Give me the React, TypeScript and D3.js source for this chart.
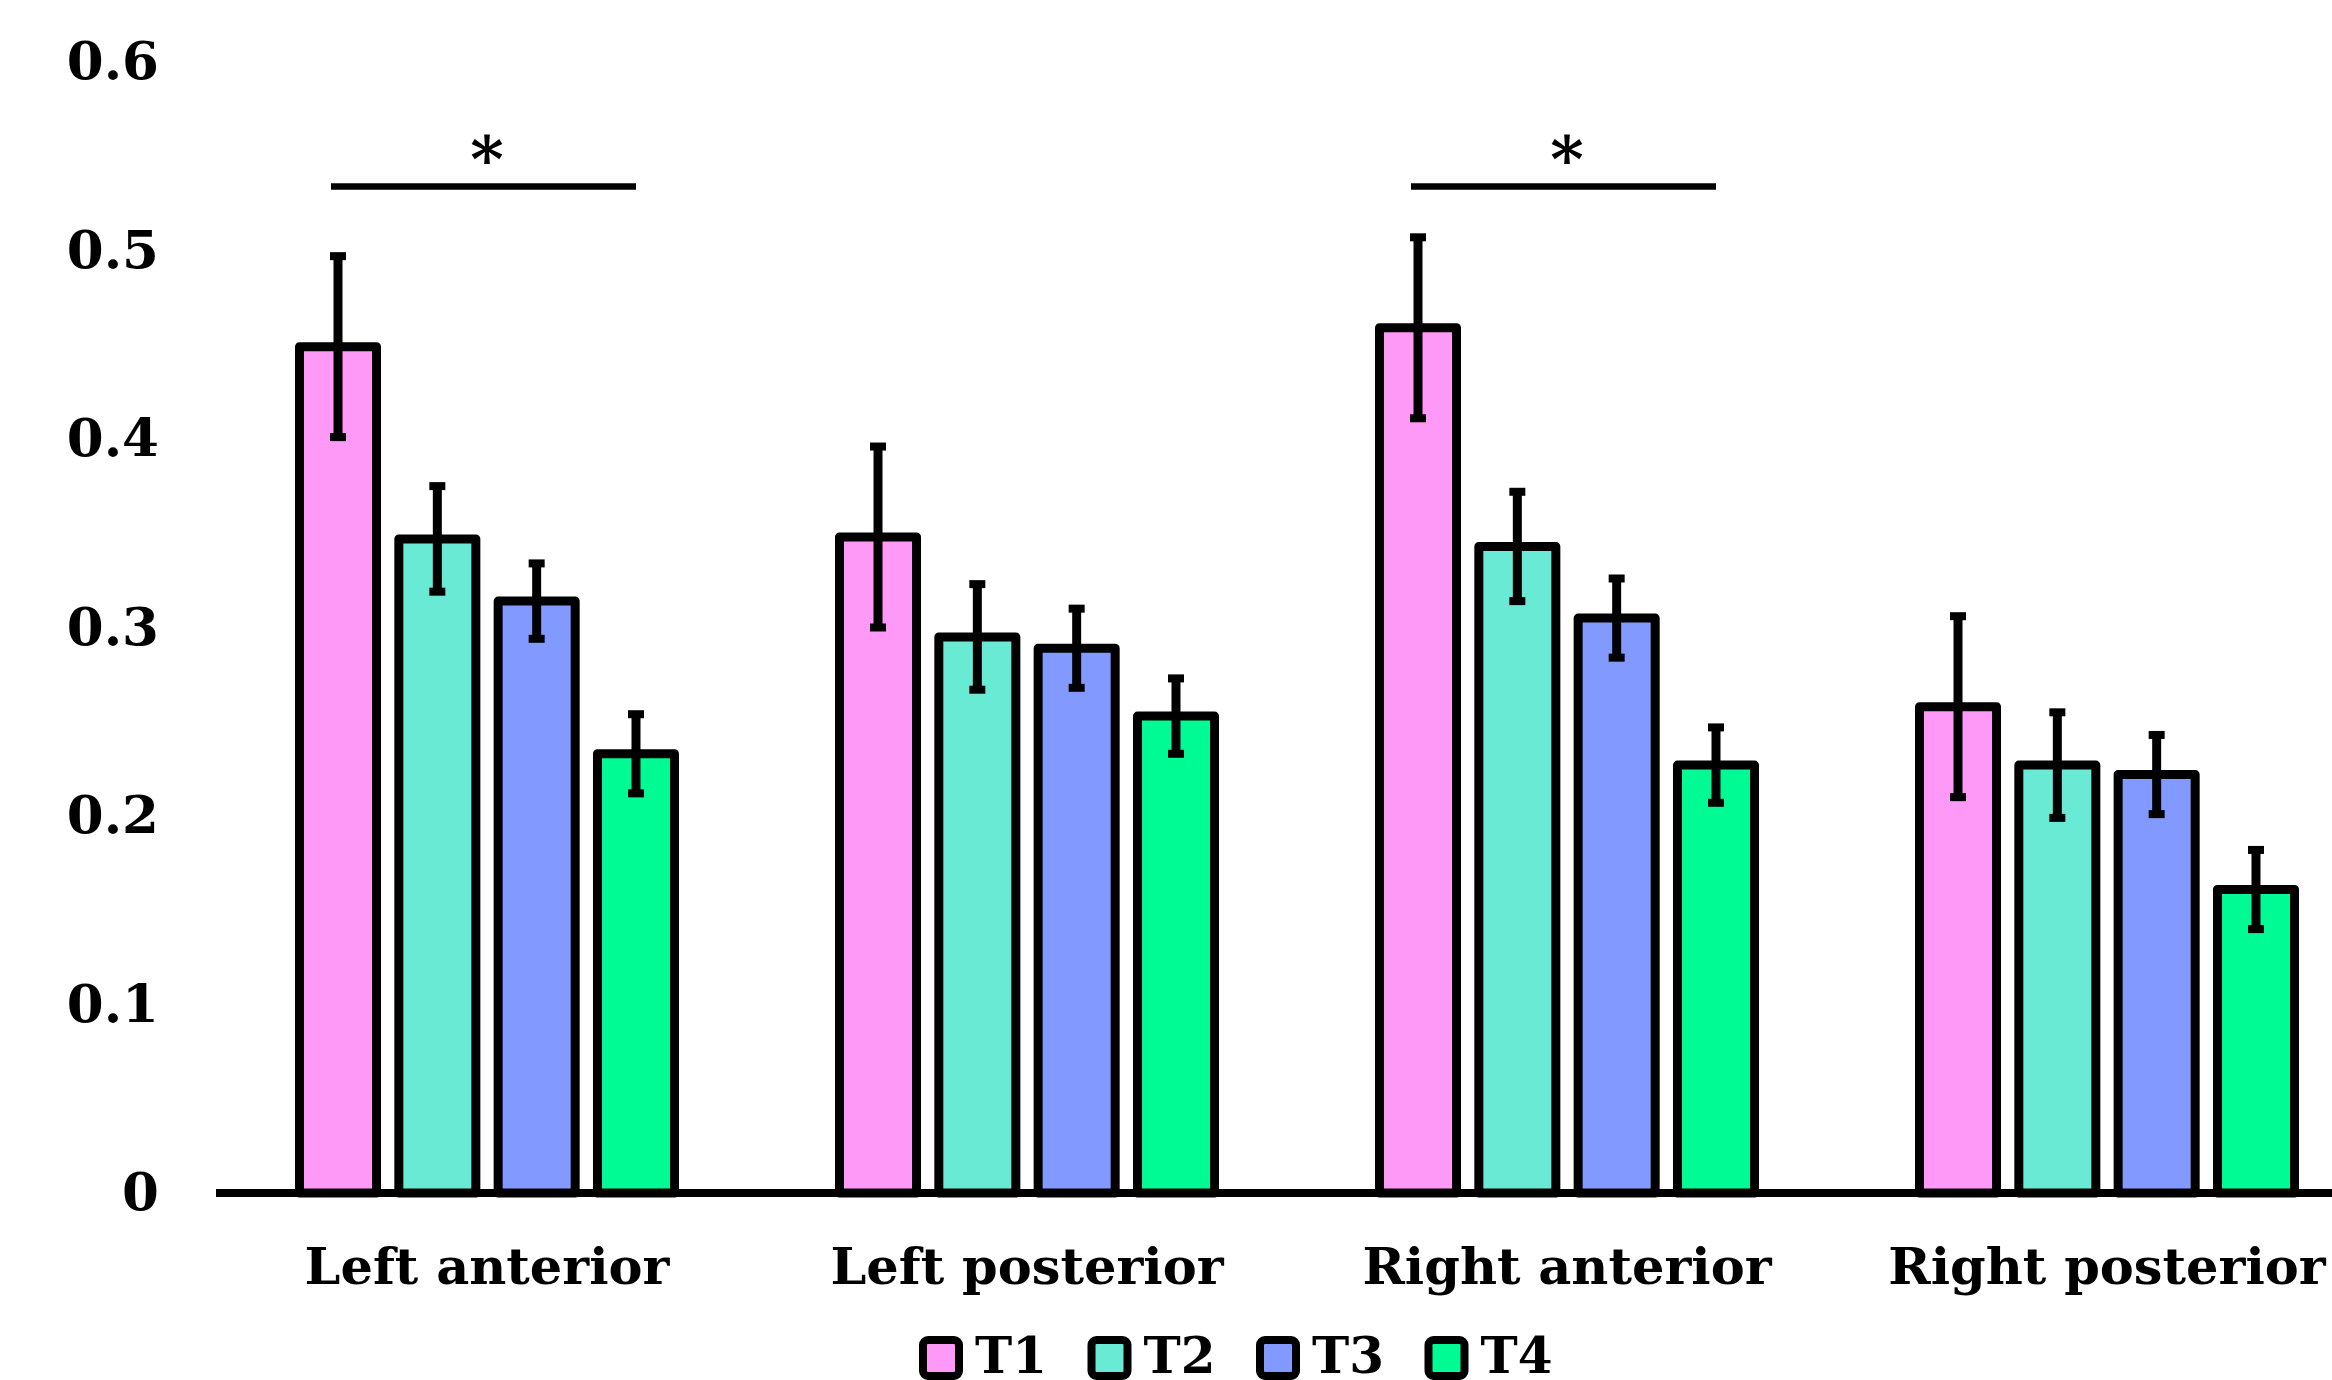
import React, { useRef, useEffect } from "react";
import * as d3 from "d3";

// regions and time points
const regions = ["Left anterior", "Left posterior", "Right anterior", "Right posterior"];
const sessions = ["T1", "T2", "T3", "T4"];
const colors = ["#FF99F7", "#68EAD5", "#8299FF", "#00FA93"];

// mean values per session (one entry per region)
const t1 = [0.449, 0.348, 0.459, 0.258];
const t2 = [0.347, 0.295, 0.343, 0.227];
const t3 = [0.314, 0.289, 0.305, 0.222];
const t4 = [0.233, 0.253, 0.227, 0.161];

// error bar half-widths
const t1Err = [0.048, 0.048, 0.048, 0.048];
const t2Err = [0.028, 0.028, 0.029, 0.028];
const t3Err = [0.02, 0.021, 0.021, 0.021];
const t4Err = [0.021, 0.02, 0.02, 0.021];

const yTicks = [0, 0.1, 0.2, 0.3, 0.4, 0.5, 0.6];
// significance brackets (T1 vs T4) and their height
const sigRegions = ["Left anterior", "Right anterior"];
const sigLevel = 0.534;

const width = 2332,
  height = 1380;
const font = "'DejaVu Serif', serif";

function App() {
  const svgRef = useRef<SVGSVGElement>(null);

  const values = [t1, t2, t3, t4];
  const errs = [t1Err, t2Err, t3Err, t4Err];

  const x0 = d3.scaleBand<string>().domain(regions).range([217, 2377]);
  const x1 = d3
    .scaleBand<string>()
    .domain(sessions)
    .range([(540 - 375) / 2, (540 + 375) / 2])
    .paddingInner(0.2246)
    .paddingOuter(0);
  const y = d3.scaleLinear().domain([0, 0.6]).range([1193, 62]);

  const rows = regions.flatMap((r, i) =>
    sessions.map((s, j) => ({ region: r, session: s, value: values[j][i], err: errs[j][i], color: colors[j] }))
  );

  useEffect(() => {
    const svg = d3.select(svgRef.current);

    const yAxis = d3
      .axisLeft(y)
      .tickValues(yTicks)
      .tickSize(0)
      .tickPadding(58)
      .tickFormat((d) => (d === 0 ? "0" : d3.format(".1f")(d as number)));

    svg
      .select<SVGGElement>(".y-axis")
      .attr("transform", `translate(217,0)`)
      .call(yAxis)
      .call((g) => g.select(".domain").remove())
      .selectAll("text")
      .attr("font-family", font)
      .attr("font-weight", "bold")
      .attr("font-size", 53)
      .attr("fill", "#000");

    const xAxis = d3.axisBottom(x0).tickSize(0);
    svg
      .select<SVGGElement>(".x-axis")
      .attr("transform", `translate(0,${y(0)})`)
      .call(xAxis)
      .call((g) => g.select(".domain").remove())
      .selectAll("text")
      .attr("y", 91)
      .attr("dy", 0)
      .attr("font-family", font)
      .attr("font-weight", "bold")
      .attr("font-size", 51)
      .attr("fill", "#000");
  }, []);

  const bw = x1.bandwidth();
  const capW = 16;

  return (
    <svg
      ref={svgRef}
      width={width}
      height={height}
      style={{ position: "absolute", left: 0, top: 0, background: "#fff" }}
    >
      <g className="y-axis" />
      {rows.map((d) => {
        const xb = (x0(d.region) as number) + (x1(d.session) as number);
        const cx = xb + bw / 2;
        return (
          <g key={d.region + d.session}>
            <rect
              x={xb}
              y={y(d.value)}
              width={bw}
              height={y(0) - y(d.value)}
              fill={d.color}
              stroke="#000"
              strokeWidth={9}
              strokeLinejoin="round"
            />
            <line x1={cx} x2={cx} y1={y(d.value + d.err)} y2={y(d.value - d.err)} stroke="#000" strokeWidth={9} />
            <line x1={cx - capW / 2} x2={cx + capW / 2} y1={y(d.value + d.err)} y2={y(d.value + d.err)} stroke="#000" strokeWidth={8} />
            <line x1={cx - capW / 2} x2={cx + capW / 2} y1={y(d.value - d.err)} y2={y(d.value - d.err)} stroke="#000" strokeWidth={8} />
          </g>
        );
      })}
      <line x1={216} x2={width} y1={y(0)} y2={y(0)} stroke="#000" strokeWidth={8} />
      <g className="x-axis" />

      {sigRegions.map((r) => {
        const xa = (x0(r) as number) + (x1("T1") as number) + bw / 2 - 7;
        const xb = (x0(r) as number) + (x1("T4") as number) + bw / 2;
        const cx = (x0(r) as number) + x0.bandwidth() / 2;
        return (
          <g key={"sig" + r}>
            <line x1={xa} x2={xb} y1={y(sigLevel)} y2={y(sigLevel)} stroke="#000" strokeWidth={6.5} />
            <text x={cx} y={y(sigLevel) - 4} textAnchor="middle" fontFamily={font} fontWeight="bold" fontSize={64}>
              *
            </text>
          </g>
        );
      })}

      <g transform="translate(919,1336)">
        {sessions.map((s, i) => (
          <g key={s} transform={`translate(${i * 168.5},0)`}>
            <rect x={4} y={4} width={36} height={36} rx={5} fill={colors[i]} stroke="#000" strokeWidth={8} />
            <text x={56} y={37} fontFamily={font} fontWeight="bold" fontSize={50}>
              {s}
            </text>
          </g>
        ))}
      </g>
    </svg>
  );
}

export default App;
